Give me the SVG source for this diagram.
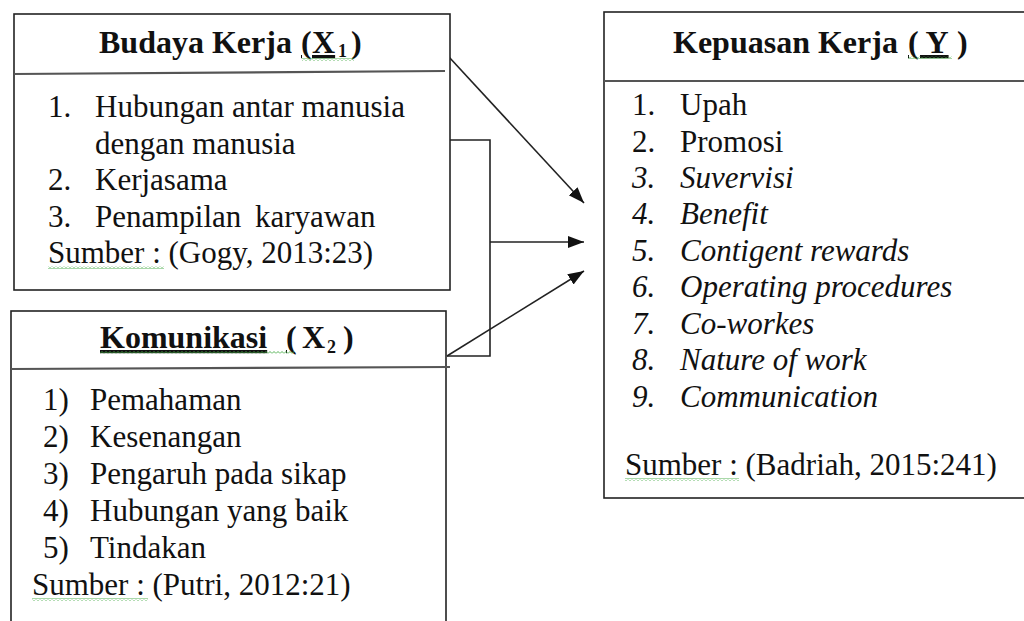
<svg xmlns="http://www.w3.org/2000/svg" width="1024" height="621" viewBox="0 0 1024 621">
<style>
.box{fill:#fff;stroke:#222;stroke-width:1.6}
.div{stroke:#555;stroke-width:2.2}
.t{font-family:"Liberation Serif","Times New Roman",serif;font-size:31px;fill:#111}
.b{font-weight:bold;font-size:32px}
.i{font-style:italic}
.sub{font-size:18px}
.u{text-decoration:underline}
.con{fill:none;stroke:#222;stroke-width:1.6}
.sq{fill:url(#squig)}
</style>
<defs>
<pattern id="squig" patternUnits="userSpaceOnUse" width="4" height="3">
<path d="M0,2.5 L2,0.5 L4,2.5" fill="none" stroke="#3fa93f" stroke-width="0.9"/>
</pattern>
<marker id="ah" markerUnits="userSpaceOnUse" markerWidth="18" markerHeight="14" refX="16" refY="6" orient="auto">
<path d="M0,0 L16,6 L0,12 z" fill="#111"/>
</marker>
</defs>

<g id="connectors">
<polyline class="con" points="450,140 490,140 490,356 447,356"/>
<line class="con" x1="449" y1="57" x2="584" y2="203" marker-end="url(#ah)"/>
<line class="con" x1="490" y1="242" x2="584" y2="242" marker-end="url(#ah)"/>
<line class="con" x1="447" y1="356" x2="584" y2="271" marker-end="url(#ah)"/>
</g>

<g id="node-budaya">
<rect class="box" x="14" y="14" width="436" height="276"/>
<line class="div" x1="14" y1="74" x2="445" y2="71"/>
<text class="t b" x="99" y="53">Budaya Kerja</text>
<text class="t b u" x="301" y="53">(</text>
<text class="t b u" x="312" y="53">X</text>
<text class="t b sub" x="338" y="57">1</text>
<text class="t b" x="351" y="53">)</text>
<rect class="sq" x="302" y="58" width="52" height="3"/>
<text class="t" x="48" y="117">1.</text>
<text class="t" x="95" y="117">Hubungan antar manusia</text>
<text class="t" x="95" y="154">dengan manusia</text>
<text class="t" x="48" y="190">2.</text>
<text class="t" x="95" y="190">Kerjasama</text>
<text class="t" x="48" y="227">3.</text>
<text class="t" x="95" y="227">Penampilan</text>
<text class="t" x="255" y="227">karyawan</text>
<text class="t" x="48" y="263">Sumber : (Gogy, 2013:23)</text>
<rect class="sq" x="48" y="266" width="116" height="3"/>
</g>

<g id="node-komunikasi">
<rect class="box" x="11" y="311" width="435" height="330"/>
<line class="div" x1="11" y1="369" x2="450" y2="367"/>
<text class="t b u" x="100" y="348">Komunikasi</text>
<text class="t b u" x="286" y="348">(</text>
<text class="t b" x="302" y="348">X</text>
<text class="t b sub" x="327" y="353">2</text>
<text class="t b" x="343" y="348">)</text>
<rect class="sq" x="100" y="351" width="194" height="3"/>
<text class="t" x="43" y="410">1)</text>
<text class="t" x="90" y="410">Pemahaman</text>
<text class="t" x="43" y="447">2)</text>
<text class="t" x="90" y="447">Kesenangan</text>
<text class="t" x="43" y="484">3)</text>
<text class="t" x="90" y="484">Pengaruh pada sikap</text>
<text class="t" x="43" y="521">4)</text>
<text class="t" x="90" y="521">Hubungan yang baik</text>
<text class="t" x="43" y="558">5)</text>
<text class="t" x="90" y="558">Tindakan</text>
<text class="t" x="32" y="595">Sumber : (Putri, 2012:21)</text>
<rect class="sq" x="32" y="598" width="116" height="3"/>
</g>

<g id="node-kepuasan">
<rect class="box" x="604" y="12" width="430" height="486"/>
<line class="div" x1="604" y1="81" x2="1024" y2="81"/>
<text class="t b" x="673" y="53">Kepuasan Kerja</text>
<text class="t b u" x="908" y="53">( Y</text>
<text class="t b" x="957" y="53">)</text>
<rect class="sq" x="908" y="56" width="44" height="3"/>
<text class="t" x="632" y="115">1.</text>
<text class="t" x="680" y="115">Upah</text>
<text class="t" x="632" y="152">2.</text>
<text class="t" x="680" y="152">Promosi</text>
<text class="t i" x="632" y="188">3.</text>
<text class="t i" x="680" y="188">Suvervisi</text>
<text class="t i" x="632" y="224">4.</text>
<text class="t i" x="680" y="224">Benefit</text>
<text class="t i" x="632" y="261">5.</text>
<text class="t i" x="680" y="261">Contigent rewards</text>
<text class="t i" x="632" y="297">6.</text>
<text class="t i" x="680" y="297">Operating procedures</text>
<text class="t i" x="632" y="334">7.</text>
<text class="t i" x="680" y="334">Co-workes</text>
<text class="t i" x="632" y="370">8.</text>
<text class="t i" x="680" y="370">Nature of work</text>
<text class="t i" x="632" y="407">9.</text>
<text class="t i" x="680" y="407">Communication</text>
<text class="t" x="625" y="475">Sumber : (Badriah, 2015:241)</text>
<rect class="sq" x="625" y="478" width="114" height="3"/>
</g>
</svg>
